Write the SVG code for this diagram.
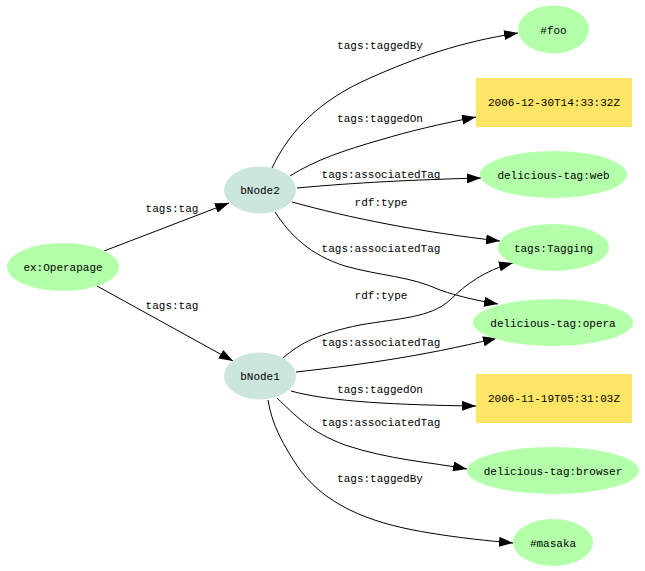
<svg xmlns="http://www.w3.org/2000/svg" width="645" height="571" viewBox="0 0 645 571">
<style>
.lit{fill:#b3ffaa;stroke:none}
.bn{fill:#cce6dd;stroke:none}
.dt{fill:#ffe566;stroke:none}
text{font-family:"Liberation Mono","DejaVu Sans Mono",monospace;font-size:11px;fill:#000}
.c{text-anchor:middle}
.e{fill:none;stroke:#000;stroke-width:1}
</style>
<defs>
<marker id="ah" viewBox="0 0 14 10" refX="14" refY="5" markerWidth="14" markerHeight="10" markerUnits="userSpaceOnUse" orient="auto">
<path d="M0,0 L14,5 L0,10 Z" fill="#000"/>
</marker>
</defs>
<rect width="645" height="571" fill="#fff"/>
<g id="edges">
<path class="e" marker-end="url(#ah)" d="M104,251 L229,203"/>
<text class="c" x="172" y="212">tags:tag</text>
<path class="e" marker-end="url(#ah)" d="M97,286 L233,361"/>
<text class="c" x="172" y="309">tags:tag</text>
<path class="e" marker-end="url(#ah)" d="M272,168 C290,130 320,100 370,78 C415,58 460,42 518,33"/>
<text class="c" x="380" y="49">tags:taggedBy</text>
<path class="e" marker-end="url(#ah)" d="M290,176 C315,160 345,150 380,140 C410,131 440,124 476,117"/>
<text class="c" x="380" y="122">tags:taggedOn</text>
<path class="e" marker-end="url(#ah)" d="M297,188 C340,184 400,180 481,178"/>
<text class="c" x="381" y="178">tags:associatedTag</text>
<path class="e" marker-end="url(#ah)" d="M292,202 C350,218 420,232 500,241"/>
<text class="c" x="381" y="206">rdf:type</text>
<path class="e" marker-end="url(#ah)" d="M275,212 C290,235 310,255 345,266 C380,276 410,276 440,290 C460,297 480,301 498,304"/>
<text class="c" x="381" y="252">tags:associatedTag</text>
<path class="e" marker-end="url(#ah)" d="M283,358 C300,343 320,333 360,325 C400,318 430,318 450,300 C465,285 485,270 513,263"/>
<text class="c" x="381" y="299">rdf:type</text>
<path class="e" marker-end="url(#ah)" d="M296,372 C350,366 420,357 497,338"/>
<text class="c" x="381" y="346">tags:associatedTag</text>
<path class="e" marker-end="url(#ah)" d="M291,391 C330,402 400,405 476,406"/>
<text class="c" x="380" y="393">tags:taggedOn</text>
<path class="e" marker-end="url(#ah)" d="M277,398 C295,415 310,432 345,445 C390,460 430,462 467,469"/>
<text class="c" x="381" y="426">tags:associatedTag</text>
<path class="e" marker-end="url(#ah)" d="M268,400 C272,425 283,445 300,470 C330,510 380,525 430,533 C460,538 490,541 513,543"/>
<text class="c" x="380" y="482">tags:taggedBy</text>
</g>
<g id="n-operapage"><ellipse class="lit" cx="63" cy="267" rx="56" ry="24"/><text class="c" x="63" y="271">ex:Operapage</text></g>
<g id="n-bnode2"><ellipse class="bn" cx="260" cy="190" rx="36" ry="23.5"/><text class="c" x="260" y="194">bNode2</text></g>
<g id="n-bnode1"><ellipse class="bn" cx="260" cy="376" rx="36" ry="23.5"/><text class="c" x="260" y="380">bNode1</text></g>
<g id="n-foo"><ellipse class="lit" cx="553.5" cy="29.5" rx="35.5" ry="24"/><text class="c" x="553.5" y="34">#foo</text></g>
<g id="n-date1"><rect class="dt" x="476" y="78" width="156" height="49"/><text class="c" x="554" y="106">2006-12-30T14:33:32Z</text></g>
<g id="n-web"><ellipse class="lit" cx="553.5" cy="174.5" rx="73.5" ry="23.5"/><text class="c" x="553.5" y="178.5">delicious-tag:web</text></g>
<g id="n-tagging"><ellipse class="lit" cx="553.5" cy="247.5" rx="55.5" ry="23.5"/><text class="c" x="553.5" y="251.5">tags:Tagging</text></g>
<g id="n-opera"><ellipse class="lit" cx="553" cy="322.5" rx="80" ry="23.5"/><text class="c" x="553" y="326.5">delicious-tag:opera</text></g>
<g id="n-date2"><rect class="dt" x="476" y="374" width="156" height="49"/><text class="c" x="554" y="402">2006-11-19T05:31:03Z</text></g>
<g id="n-browser"><ellipse class="lit" cx="553" cy="470.5" rx="86" ry="23.5"/><text class="c" x="553" y="474.5">delicious-tag:browser</text></g>
<g id="n-masaka"><ellipse class="lit" cx="553" cy="542.5" rx="40" ry="23.5"/><text class="c" x="553" y="546.5">#masaka</text></g>
</svg>
